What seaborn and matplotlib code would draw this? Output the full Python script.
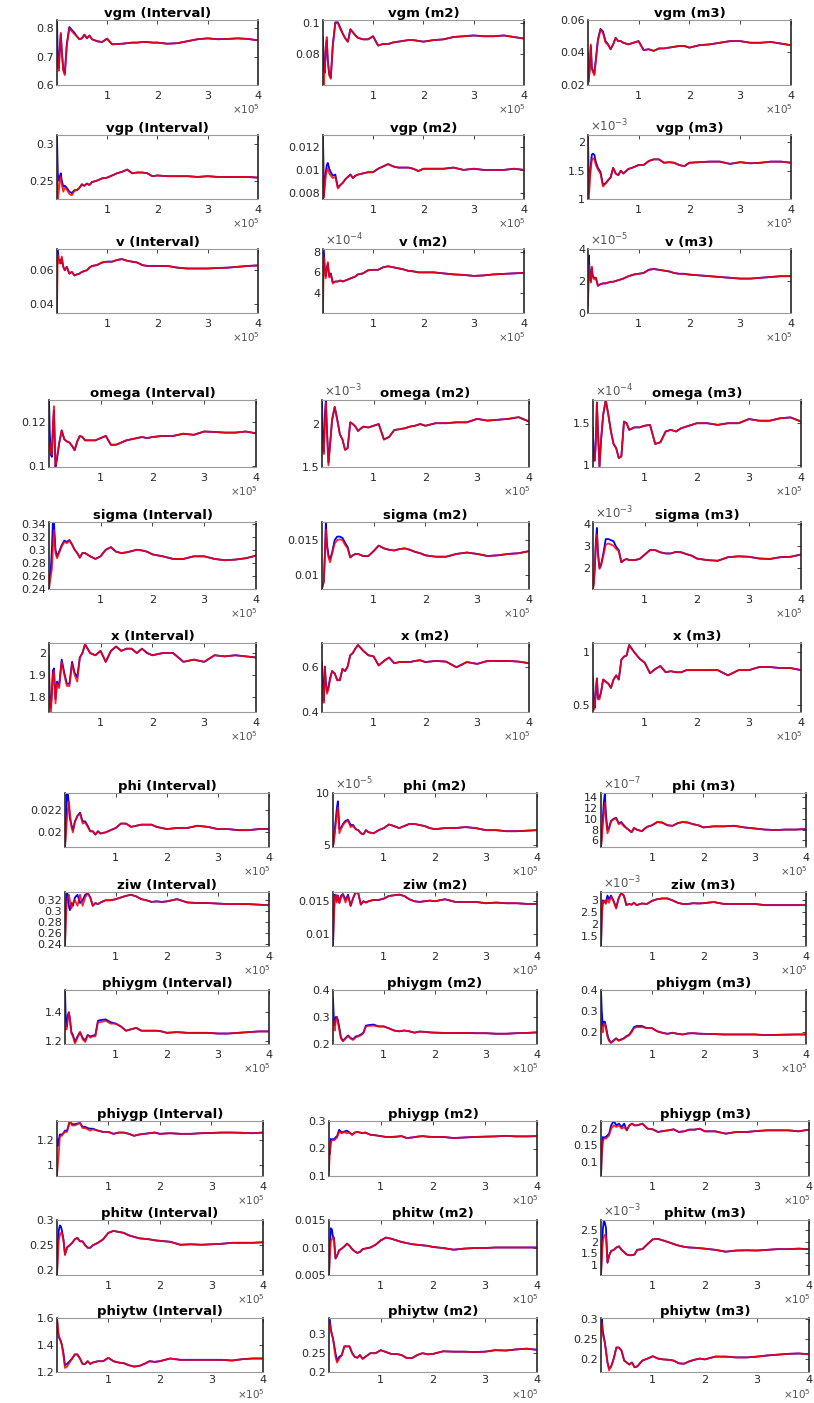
import matplotlib
matplotlib.use("Agg")
import matplotlib.pyplot as plt
import seaborn as sns
from matplotlib.ticker import FuncFormatter, FixedLocator

# ---------------------------------------------------------------------------
# Draw index (units of 1e5 draws)
# ---------------------------------------------------------------------------
draws = [0.005, 0.02, 0.04, 0.06, 0.08, 0.10, 0.13, 0.16, 0.20, 0.25, 0.30,
         0.35, 0.40, 0.45, 0.50, 0.55, 0.60, 0.65, 0.70, 0.80, 0.90,
         1.0, 1.1, 1.2, 1.3, 1.4, 1.5, 1.6, 1.7, 1.8, 1.9, 2.0,
         2.2, 2.4, 2.6, 2.8, 3.0, 3.2, 3.4, 3.6, 3.8, 4.0]
x_ticks = [1, 2, 3, 4]

# ---------------------------------------------------------------------------
# Convergence statistics: red = pooled chain, blue = within chains (early
# part listed separately, afterwards both coincide)
# ---------------------------------------------------------------------------
vgm_interval_red = [0.75, 0.68, 0.65, 0.72, 0.785, 0.72, 0.65, 0.635, 0.74, 0.80, 0.79, 0.78, 0.772, 0.762, 0.765, 0.778, 0.765, 0.775, 0.762, 0.755, 0.752,
                    0.764, 0.744, 0.745, 0.746, 0.748, 0.75, 0.75, 0.752, 0.752, 0.75, 0.75, 0.746, 0.748, 0.755, 0.762, 0.765, 0.762, 0.763, 0.765, 0.763, 0.758]
vgm_interval_blue = [0.83, 0.70, 0.66, 0.73, 0.78, 0.72, 0.655, 0.64, 0.745, 0.805, 0.795, 0.785]
vgm_m2_red = [0.065, 0.06, 0.07, 0.085, 0.091, 0.075, 0.066, 0.064, 0.085, 0.1, 0.1, 0.096, 0.093, 0.09, 0.088, 0.096, 0.094, 0.092, 0.0905, 0.0895, 0.0895,
              0.0915, 0.0855, 0.0865, 0.0865, 0.0875, 0.088, 0.0885, 0.089, 0.089, 0.0885, 0.088, 0.089, 0.0895, 0.091, 0.0915, 0.092, 0.0915, 0.0915, 0.092, 0.091, 0.090]
vgm_m2_blue = [0.091, 0.07, 0.068, 0.083, 0.089, 0.076, 0.067, 0.065, 0.086, 0.1005, 0.1005, 0.097]
vgm_m3_red = [0.038, 0.022, 0.03, 0.045, 0.03, 0.028, 0.026, 0.035, 0.047, 0.054, 0.052, 0.046, 0.045, 0.042, 0.045, 0.049, 0.047, 0.047, 0.046, 0.045, 0.046,
              0.047, 0.0415, 0.042, 0.041, 0.0425, 0.0425, 0.043, 0.0435, 0.044, 0.044, 0.043, 0.0445, 0.045, 0.046, 0.047, 0.047, 0.046, 0.046, 0.0465, 0.0455, 0.0445]
vgm_m3_blue = [0.04, 0.024, 0.031, 0.044, 0.031, 0.029, 0.027, 0.036, 0.048, 0.0545, 0.053, 0.047]

vgp_interval_red = [0.29, 0.225, 0.235, 0.25, 0.255, 0.245, 0.235, 0.24, 0.238, 0.232, 0.23, 0.236, 0.237, 0.24, 0.245, 0.243, 0.246, 0.244, 0.248, 0.25, 0.253,
                    0.254, 0.257, 0.26, 0.262, 0.265, 0.26, 0.261, 0.261, 0.26, 0.256, 0.257, 0.256, 0.256, 0.256, 0.255, 0.256, 0.255, 0.255, 0.255, 0.255, 0.254]
vgp_interval_blue = [0.312, 0.26, 0.25, 0.255, 0.26, 0.25, 0.242, 0.243, 0.24, 0.235, 0.233, 0.237]
vgp_m2_red = [0.0125, 0.0076, 0.0085, 0.0095, 0.0099, 0.0101, 0.0097, 0.0095, 0.0093, 0.0094, 0.0084, 0.0087, 0.0089, 0.0092, 0.0094, 0.0096, 0.0093, 0.0095, 0.0096, 0.0097, 0.0098,
              0.0098, 0.0101, 0.0103, 0.0105, 0.0103, 0.0102, 0.0102, 0.0102, 0.0101, 0.0099, 0.0101, 0.0101, 0.0101, 0.0102, 0.01, 0.0101, 0.01, 0.01, 0.01, 0.0101, 0.01]
vgp_m2_blue = [0.013, 0.0078, 0.009, 0.0098, 0.0104, 0.0106, 0.0101, 0.0098, 0.0095, 0.0096, 0.0085]
vgp_m3_red = [2.1, 1.0, 1.3, 1.55, 1.68, 1.72, 1.7, 1.6, 1.52, 1.45, 1.22, 1.27, 1.33, 1.38, 1.55, 1.45, 1.42, 1.5, 1.45, 1.53, 1.56,
              1.6, 1.6, 1.67, 1.7, 1.7, 1.64, 1.65, 1.64, 1.6, 1.58, 1.64, 1.65, 1.66, 1.66, 1.62, 1.65, 1.63, 1.64, 1.66, 1.66, 1.64]
vgp_m3_blue = [2.13, 1.1, 1.4, 1.6, 1.78, 1.8, 1.78, 1.65, 1.55, 1.48, 1.25, 1.28]

v_interval_red = [0.036, 0.069, 0.064, 0.066, 0.064, 0.068, 0.062, 0.06, 0.062, 0.058, 0.059, 0.057, 0.0575, 0.058, 0.059, 0.0595, 0.06, 0.0615, 0.0625, 0.063, 0.0645,
                  0.065, 0.065, 0.066, 0.0665, 0.0655, 0.065, 0.0645, 0.063, 0.0625, 0.0625, 0.0625, 0.0625, 0.0615, 0.061, 0.061, 0.061, 0.0613, 0.0615, 0.062, 0.0625, 0.0628]
v_interval_blue = [0.0724, 0.0724, 0.066, 0.066, 0.064, 0.067, 0.062]
v_m2_red = [2.1, 7.5, 6.2, 5.4, 6.3, 7.0, 5.5, 5.8, 4.9, 5.1, 5.1, 5.2, 5.1, 5.2, 5.3, 5.4, 5.5, 5.6, 5.8, 5.9, 6.2,
            6.25, 6.25, 6.5, 6.6, 6.5, 6.4, 6.3, 6.15, 6.1, 6.0, 6.0, 6.0, 5.9, 5.8, 5.75, 5.65, 5.7, 5.8, 5.85, 5.9, 5.95]
v_m2_blue = [8.3, 8.3, 6.4, 5.6, 6.4, 6.8, 5.6, 5.9, 5.0]
v_m3_red = [0.5, 3.0, 2.2, 1.9, 2.9, 2.2, 2.1, 2.2, 1.7, 1.8, 1.85, 1.85, 1.9, 1.95, 1.95, 2.0, 2.05, 2.1, 2.15, 2.3, 2.4,
            2.45, 2.5, 2.7, 2.75, 2.7, 2.65, 2.6, 2.5, 2.45, 2.45, 2.4, 2.35, 2.3, 2.25, 2.2, 2.15, 2.15, 2.2, 2.25, 2.3, 2.3]
v_m3_blue = [0.5, 3.6, 2.5, 2.0, 2.8, 2.3, 2.2]

omega_interval_red = [0.112, 0.11, 0.106, 0.105, 0.118, 0.127, 0.1, 0.104, 0.11, 0.116, 0.112, 0.111, 0.1105, 0.109, 0.107, 0.111, 0.1135, 0.113, 0.1115, 0.1115, 0.1115,
                      0.1125, 0.1135, 0.1095, 0.1095, 0.1105, 0.1115, 0.112, 0.1125, 0.113, 0.1125, 0.113, 0.1135, 0.1135, 0.1145, 0.114, 0.1155, 0.1153, 0.115, 0.115, 0.1155, 0.1147]
omega_interval_blue = [0.1298, 0.115, 0.105, 0.104, 0.116, 0.125, 0.0995, 0.103, 0.11, 0.116]
omega_m2_red = [1.8, 1.7, 1.65, 2.0, 2.25, 1.9, 1.52, 1.75, 2.05, 2.2, 2.05, 1.88, 1.82, 1.7, 1.72, 2.02, 2.0, 1.97, 1.92, 1.97, 1.96,
                1.98, 2.0, 1.82, 1.85, 1.93, 1.94, 1.95, 1.97, 1.98, 2.0, 1.98, 2.01, 2.01, 2.02, 2.02, 2.06, 2.04, 2.05, 2.06, 2.08, 2.03]
omega_m2_blue = [2.28, 1.75, 1.68, 2.1, 2.28, 1.95, 1.55, 1.76]
omega_m3_red = [1.05, 1.05, 1.05, 1.3, 1.75, 1.4, 0.97, 1.3, 1.6, 1.78, 1.6, 1.4, 1.25, 1.2, 1.08, 1.1, 1.52, 1.5, 1.42, 1.45, 1.45,
                1.47, 1.48, 1.25, 1.27, 1.4, 1.42, 1.4, 1.44, 1.46, 1.48, 1.5, 1.5, 1.48, 1.5, 1.5, 1.55, 1.53, 1.53, 1.56, 1.57, 1.52]
omega_m3_blue = [1.45, 1.05, 1.05, 1.3, 1.75, 1.4, 0.98, 1.3]

sigma_interval_red = [0.24, 0.25, 0.26, 0.27, 0.3, 0.33, 0.295, 0.287, 0.295, 0.305, 0.312, 0.31, 0.314, 0.308, 0.3, 0.295, 0.288, 0.295, 0.295, 0.29, 0.286,
                      0.29, 0.3, 0.304, 0.297, 0.295, 0.296, 0.298, 0.3, 0.299, 0.297, 0.293, 0.29, 0.286, 0.286, 0.29, 0.29, 0.286, 0.284, 0.285, 0.287, 0.291]
sigma_interval_blue = [0.24, 0.26, 0.27, 0.3, 0.3425, 0.3425, 0.3, 0.29, 0.297, 0.307, 0.314, 0.312, 0.315]
sigma_m2_red = [0.008, 0.0085, 0.009, 0.0125, 0.0165, 0.014, 0.0125, 0.0118, 0.013, 0.0145, 0.015, 0.0151, 0.015, 0.0143, 0.0138, 0.0125, 0.0128, 0.013, 0.013, 0.0127, 0.0127,
                0.0134, 0.0142, 0.0138, 0.0136, 0.0135, 0.0137, 0.0138, 0.0136, 0.0133, 0.0131, 0.0128, 0.0126, 0.0126, 0.013, 0.0132, 0.013, 0.0127, 0.0128, 0.013, 0.0131, 0.0134]
sigma_m2_blue = [0.008, 0.0085, 0.009, 0.013, 0.0176, 0.0145, 0.0128, 0.0122, 0.0132, 0.015, 0.0155, 0.0155, 0.0153, 0.0146, 0.014]
sigma_m3_red = [1.05, 1.2, 2.0, 3.0, 3.5, 2.6, 1.95, 2.1, 2.5, 3.05, 3.1, 3.05, 3.0, 2.85, 2.75, 2.25, 2.35, 2.4, 2.35, 2.35, 2.4,
                2.6, 2.8, 2.8, 2.7, 2.65, 2.65, 2.72, 2.7, 2.62, 2.55, 2.42, 2.35, 2.32, 2.48, 2.52, 2.5, 2.42, 2.4, 2.48, 2.5, 2.6]
sigma_m3_blue = [1.2, 1.3, 2.1, 3.2, 3.8, 2.7, 2.0, 2.15, 2.6, 3.3, 3.3, 3.25, 3.2, 2.95, 2.8]

x_interval_red = [1.99, 1.76, 1.73, 1.8, 1.9, 1.92, 1.77, 1.86, 1.84, 1.96, 1.9, 1.85, 1.85, 1.95, 1.9, 1.87, 1.98, 2.0, 2.04, 2.0, 1.99,
                  2.01, 1.96, 2.01, 2.03, 2.01, 2.02, 2.02, 2.0, 2.02, 2.0, 1.99, 2.0, 2.0, 1.96, 1.97, 1.96, 1.99, 1.985, 1.99, 1.985, 1.98]
x_interval_blue = [1.9, 1.8, 1.75, 1.82, 1.92, 1.93, 1.79, 1.87, 1.85, 1.97, 1.91, 1.86, 1.86, 1.96, 1.91, 1.89]
x_m2_red = [0.52, 0.46, 0.44, 0.6, 0.52, 0.48, 0.5, 0.54, 0.58, 0.57, 0.54, 0.54, 0.59, 0.58, 0.6, 0.65, 0.66, 0.68, 0.695, 0.67, 0.65,
            0.645, 0.605, 0.625, 0.64, 0.615, 0.62, 0.62, 0.62, 0.625, 0.628, 0.62, 0.625, 0.622, 0.597, 0.62, 0.612, 0.625, 0.625, 0.625, 0.622, 0.615]
x_m2_blue = [0.62, 0.52, 0.45, 0.6, 0.53, 0.49, 0.51, 0.55]
x_m3_red = [0.6, 0.45, 0.5, 0.65, 0.75, 0.55, 0.55, 0.62, 0.74, 0.72, 0.7, 0.66, 0.74, 0.78, 0.74, 0.93, 0.96, 0.97, 1.07, 1.0, 0.94,
            0.9, 0.8, 0.84, 0.87, 0.81, 0.82, 0.81, 0.81, 0.83, 0.83, 0.83, 0.83, 0.83, 0.78, 0.83, 0.83, 0.86, 0.86, 0.85, 0.85, 0.83]
x_m3_blue = [0.76, 0.5, 0.47, 0.63, 0.75, 0.56, 0.57]

phi_interval_red = [0.0187, 0.0195, 0.021, 0.022, 0.0228, 0.0218, 0.0205, 0.02, 0.021, 0.0215, 0.0217, 0.0208, 0.0209, 0.0205, 0.0201, 0.0201, 0.0198, 0.0201, 0.0199, 0.02, 0.0202,
                    0.0204, 0.0208, 0.0208, 0.0205, 0.0206, 0.0207, 0.0207, 0.0207, 0.0205, 0.0204, 0.0203, 0.0204, 0.0204, 0.0206, 0.0205, 0.0203, 0.0203, 0.0202, 0.0202, 0.0203, 0.0203]
phi_interval_blue = [0.0187, 0.0205, 0.0236, 0.0236, 0.0225, 0.0213, 0.0207, 0.0202, 0.021, 0.0215, 0.0218, 0.021, 0.021, 0.0206]
phi_m2_red = [4.8, 5.2, 6.0, 7.0, 8.0, 8.6, 6.1, 6.5, 6.9, 7.2, 7.3, 6.7, 6.8, 6.5, 6.4, 6.1, 6.0, 6.4, 6.2, 6.1, 6.4,
              6.6, 6.95, 6.8, 6.6, 6.8, 7.0, 7.0, 6.9, 6.8, 6.6, 6.5, 6.6, 6.6, 6.7, 6.6, 6.4, 6.4, 6.3, 6.3, 6.35, 6.4]
phi_m2_blue = [4.8, 5.5, 6.5, 7.5, 8.5, 9.2, 6.5, 6.6, 7.0, 7.3, 7.4, 6.9, 6.9]
phi_m3_red = [4.8, 6.0, 9.0, 11.0, 13.0, 10.0, 7.3, 8.0, 9.5, 9.9, 10.1, 9.0, 9.2, 8.6, 8.3, 7.9, 7.5, 8.3, 8.0, 7.7, 8.5,
              8.8, 9.4, 9.3, 8.8, 8.7, 9.2, 9.4, 9.3, 9.0, 8.8, 8.4, 8.6, 8.6, 8.7, 8.4, 8.2, 8.0, 7.9, 8.0, 8.0, 8.1]
phi_m3_blue = [4.8, 7.0, 10.0, 13.0, 14.8, 11.0, 8.0, 8.3, 9.6, 10.0, 10.2, 9.2, 9.4, 8.8]

ziw_interval_red = [0.238, 0.28, 0.315, 0.325, 0.33, 0.32, 0.305, 0.315, 0.32, 0.31, 0.33, 0.31, 0.325, 0.333, 0.325, 0.31, 0.315, 0.313, 0.316, 0.32, 0.32,
                    0.322, 0.325, 0.328, 0.33, 0.327, 0.322, 0.32, 0.317, 0.318, 0.317, 0.318, 0.322, 0.316, 0.315, 0.315, 0.314, 0.313, 0.313, 0.313, 0.312, 0.311]
ziw_interval_blue = [0.24, 0.3, 0.335, 0.33, 0.31, 0.302, 0.315, 0.31, 0.325, 0.33, 0.315, 0.32, 0.33]
ziw_m2_red = [0.0083, 0.012, 0.0155, 0.016, 0.0148, 0.0158, 0.0147, 0.0155, 0.016, 0.0148, 0.0158, 0.0143, 0.0155, 0.0164, 0.0162, 0.0145, 0.015, 0.0148, 0.015, 0.0152, 0.0152,
              0.0154, 0.0158, 0.0159, 0.016, 0.0158, 0.0153, 0.015, 0.0149, 0.015, 0.0151, 0.015, 0.0153, 0.0149, 0.0149, 0.0149, 0.0147, 0.0148, 0.0147, 0.0147, 0.0146, 0.0146]
ziw_m2_blue = [0.0083, 0.013, 0.016, 0.0158, 0.015, 0.0159, 0.0148, 0.0158, 0.0161, 0.0152, 0.016]
ziw_m3_red = [1.1, 2.2, 2.95, 2.9, 3.0, 2.85, 3.05, 2.9, 3.15, 2.95, 2.65, 3.1, 3.3, 3.2, 2.8, 2.85, 2.82, 2.9, 2.8, 2.87, 2.85,
              2.98, 3.05, 3.08, 3.08, 3.0, 2.9, 2.85, 2.85, 2.88, 2.87, 2.88, 2.93, 2.85, 2.85, 2.85, 2.85, 2.8, 2.8, 2.8, 2.8, 2.8]
ziw_m3_blue = [1.1, 2.4, 3.0, 2.95, 2.98, 2.9, 3.2, 3.05, 3.2, 2.98, 2.7, 3.1]

phiygm_interval_red = [1.3, 1.28, 1.28, 1.35, 1.4, 1.35, 1.25, 1.23, 1.18, 1.22, 1.26, 1.21, 1.19, 1.24, 1.22, 1.23, 1.23, 1.33, 1.33, 1.34, 1.32,
                       1.32, 1.3, 1.27, 1.28, 1.29, 1.27, 1.27, 1.27, 1.27, 1.265, 1.255, 1.26, 1.255, 1.255, 1.255, 1.25, 1.25, 1.255, 1.26, 1.265, 1.265]
phiygm_interval_blue = [1.558, 1.35, 1.3, 1.38, 1.4, 1.36, 1.26, 1.24, 1.19, 1.23, 1.26, 1.22, 1.2, 1.24, 1.23, 1.235, 1.24, 1.34, 1.345, 1.35, 1.33]
phiygm_m2_red = [0.3, 0.28, 0.25, 0.29, 0.3, 0.28, 0.25, 0.22, 0.21, 0.22, 0.23, 0.22, 0.215, 0.225, 0.228, 0.232, 0.24, 0.265, 0.267, 0.268, 0.265,
                 0.265, 0.258, 0.25, 0.247, 0.25, 0.247, 0.242, 0.246, 0.245, 0.243, 0.242, 0.241, 0.241, 0.241, 0.24, 0.24, 0.238, 0.238, 0.24, 0.241, 0.243]
phiygm_m2_blue = [0.37, 0.3, 0.27, 0.3, 0.3, 0.29, 0.26, 0.225, 0.212, 0.222, 0.232, 0.222, 0.218, 0.228, 0.23, 0.235, 0.242, 0.268, 0.27, 0.272]
phiygm_m3_red = [0.26, 0.22, 0.2, 0.24, 0.24, 0.22, 0.18, 0.16, 0.15, 0.16, 0.17, 0.16, 0.165, 0.17, 0.18, 0.185, 0.2, 0.22, 0.225, 0.225, 0.22,
                 0.22, 0.205, 0.198, 0.193, 0.198, 0.193, 0.19, 0.195, 0.196, 0.194, 0.193, 0.192, 0.19, 0.19, 0.19, 0.19, 0.187, 0.188, 0.189, 0.19, 0.19]
phiygm_m3_blue = [0.4, 0.3, 0.23, 0.25, 0.25, 0.23, 0.19, 0.165, 0.152, 0.162, 0.172, 0.162, 0.167, 0.172, 0.182, 0.188, 0.205, 0.225, 0.23, 0.23]

phiygp_interval_red = [0.92, 1.0, 1.1, 1.22, 1.23, 1.23, 1.25, 1.26, 1.26, 1.34, 1.31, 1.31, 1.32, 1.33, 1.29, 1.29, 1.28, 1.27, 1.28, 1.27, 1.26,
                       1.26, 1.245, 1.255, 1.255, 1.245, 1.23, 1.24, 1.245, 1.25, 1.255, 1.245, 1.25, 1.245, 1.245, 1.25, 1.252, 1.255, 1.255, 1.253, 1.25, 1.255]
phiygp_interval_blue = [1.2, 1.15, 1.2, 1.24, 1.24, 1.24, 1.25, 1.27, 1.27, 1.34, 1.32, 1.32, 1.325, 1.33, 1.3, 1.3, 1.29, 1.285, 1.285]
phiygp_m2_red = [0.12, 0.18, 0.22, 0.23, 0.232, 0.23, 0.235, 0.24, 0.26, 0.255, 0.26, 0.255, 0.258, 0.25, 0.258, 0.26, 0.258, 0.256, 0.258, 0.25, 0.248,
                 0.245, 0.242, 0.242, 0.243, 0.245, 0.238, 0.24, 0.243, 0.245, 0.243, 0.242, 0.242, 0.238, 0.24, 0.242, 0.243, 0.244, 0.246, 0.244, 0.244, 0.245]
phiygp_m2_blue = [0.19, 0.18, 0.235, 0.23, 0.235, 0.232, 0.24, 0.245, 0.268, 0.258, 0.262, 0.265]
phiygp_m3_red = [0.06, 0.12, 0.16, 0.17, 0.172, 0.17, 0.175, 0.18, 0.2, 0.21, 0.205, 0.21, 0.2, 0.205, 0.195, 0.21, 0.215, 0.21, 0.21, 0.215, 0.2,
                 0.198, 0.19, 0.193, 0.195, 0.198, 0.19, 0.192, 0.197, 0.197, 0.2, 0.192, 0.192, 0.185, 0.19, 0.19, 0.193, 0.195, 0.195, 0.195, 0.192, 0.197]
phiygp_m3_blue = [0.06, 0.13, 0.175, 0.17, 0.175, 0.175, 0.18, 0.185, 0.21, 0.223, 0.21, 0.215, 0.205, 0.215]

phitw_interval_red = [0.19, 0.22, 0.26, 0.27, 0.275, 0.275, 0.26, 0.23, 0.245, 0.25, 0.255, 0.262, 0.265, 0.258, 0.258, 0.25, 0.245, 0.245, 0.25, 0.255, 0.262,
                      0.275, 0.279, 0.277, 0.275, 0.27, 0.267, 0.264, 0.263, 0.262, 0.26, 0.259, 0.257, 0.251, 0.252, 0.251, 0.252, 0.253, 0.255, 0.255, 0.255, 0.256]
phitw_interval_blue = [0.19, 0.25, 0.28, 0.29, 0.288, 0.28, 0.262, 0.232, 0.246]
phitw_m2_red = [0.005, 0.008, 0.011, 0.0115, 0.0118, 0.0115, 0.008, 0.0085, 0.0095, 0.0098, 0.0102, 0.0107, 0.0103, 0.0097, 0.0093, 0.009, 0.0092, 0.0097, 0.0098, 0.01, 0.0105,
                0.0113, 0.0118, 0.0116, 0.0113, 0.011, 0.0108, 0.0106, 0.0105, 0.0104, 0.0103, 0.0101, 0.0099, 0.0096, 0.0098, 0.0099, 0.0099, 0.01, 0.01, 0.01, 0.01, 0.01]
phitw_m2_blue = [0.005, 0.01, 0.0135, 0.0133, 0.012, 0.0118, 0.008, 0.0085]
phitw_m3_red = [0.6, 1.2, 2.0, 2.2, 2.3, 2.2, 1.1, 1.4, 1.6, 1.65, 1.75, 1.8, 1.65, 1.55, 1.45, 1.42, 1.42, 1.45, 1.65, 1.68, 1.9,
                2.1, 2.12, 2.05, 1.98, 1.9, 1.83, 1.78, 1.75, 1.74, 1.72, 1.7, 1.65, 1.57, 1.62, 1.63, 1.62, 1.65, 1.68, 1.68, 1.7, 1.68]
phitw_m3_blue = [0.6, 1.5, 2.5, 2.93, 2.8, 2.6, 1.1, 1.4]

phiytw_interval_red = [1.6, 1.55, 1.47, 1.45, 1.42, 1.4, 1.32, 1.23, 1.24, 1.27, 1.3, 1.33, 1.33, 1.3, 1.26, 1.26, 1.28, 1.26, 1.27, 1.28, 1.28,
                       1.305, 1.28, 1.27, 1.265, 1.25, 1.24, 1.245, 1.26, 1.28, 1.275, 1.28, 1.3, 1.29, 1.29, 1.29, 1.29, 1.29, 1.285, 1.295, 1.3, 1.3]
phiytw_interval_blue = [1.6, 1.5, 1.46, 1.44, 1.43, 1.4, 1.34, 1.25, 1.26, 1.28]
phiytw_m2_red = [0.33, 0.33, 0.31, 0.3, 0.29, 0.27, 0.24, 0.225, 0.235, 0.245, 0.268, 0.268, 0.268, 0.25, 0.24, 0.238, 0.245, 0.235, 0.24, 0.25, 0.25,
                 0.258, 0.253, 0.248, 0.248, 0.245, 0.237, 0.237, 0.245, 0.25, 0.247, 0.248, 0.255, 0.254, 0.254, 0.253, 0.254, 0.258, 0.257, 0.26, 0.262, 0.259]
phiytw_m2_blue = [0.3435, 0.34, 0.315, 0.3, 0.29, 0.275, 0.25, 0.23, 0.24]
phiytw_m3_red = [0.27, 0.29, 0.26, 0.25, 0.24, 0.22, 0.19, 0.17, 0.18, 0.2, 0.228, 0.228, 0.22, 0.195, 0.19, 0.185, 0.19, 0.178, 0.18, 0.195, 0.2,
                 0.206, 0.2, 0.198, 0.197, 0.195, 0.188, 0.187, 0.193, 0.197, 0.2, 0.198, 0.205, 0.205, 0.203, 0.203, 0.205, 0.208, 0.21, 0.212, 0.213, 0.211]
phiytw_m3_blue = [0.28, 0.303, 0.27, 0.255, 0.24, 0.22, 0.19, 0.175]

# ---------------------------------------------------------------------------
# Panel definitions: title, red, blue (head), y-limits, y-ticks, power of ten
# ---------------------------------------------------------------------------
panels = [
    [("vgm (Interval)", vgm_interval_red, vgm_interval_blue, (0.6, 0.83), [0.6, 0.7, 0.8], 0),
     ("vgm (m2)", vgm_m2_red, vgm_m2_blue, (0.06, 0.102), [0.08, 0.1], 0),
     ("vgm (m3)", vgm_m3_red, vgm_m3_blue, (0.02, 0.06), [0.02, 0.04, 0.06], 0)],
    [("vgp (Interval)", vgp_interval_red, vgp_interval_blue, (0.225, 0.312), [0.25, 0.3], 0),
     ("vgp (m2)", vgp_m2_red, vgp_m2_blue, (0.0075, 0.013), [0.008, 0.01, 0.012], 0),
     ("vgp (m3)", vgp_m3_red, vgp_m3_blue, (1.0, 2.13), [1, 1.5, 2], -3)],
    [("v (Interval)", v_interval_red, v_interval_blue, (0.035, 0.0724), [0.04, 0.06], 0),
     ("v (m2)", v_m2_red, v_m2_blue, (2.0, 8.3), [4, 6, 8], -4),
     ("v (m3)", v_m3_red, v_m3_blue, (0.0, 4.0), [0, 2, 4], -5)],
    [("omega (Interval)", omega_interval_red, omega_interval_blue, (0.0994, 0.1298), [0.1, 0.12], 0),
     ("omega (m2)", omega_m2_red, omega_m2_blue, (1.5, 2.28), [1.5, 2], -3),
     ("omega (m3)", omega_m3_red, omega_m3_blue, (0.972, 1.78), [1, 1.5], -4)],
    [("sigma (Interval)", sigma_interval_red, sigma_interval_blue, (0.24, 0.3425), [0.24, 0.26, 0.28, 0.3, 0.32, 0.34], 0),
     ("sigma (m2)", sigma_m2_red, sigma_m2_blue, (0.00795, 0.0176), [0.01, 0.015], 0),
     ("sigma (m3)", sigma_m3_red, sigma_m3_blue, (1.045, 4.07), [2, 3, 4], -3)],
    [("x (Interval)", x_interval_red, x_interval_blue, (1.731, 2.046), [1.8, 1.9, 2], 0),
     ("x (m2)", x_m2_red, x_m2_blue, (0.4, 0.704), [0.4, 0.6], 0),
     ("x (m3)", x_m3_red, x_m3_blue, (0.429, 1.09), [0.5, 1], 0)],
    [("phi (Interval)", phi_interval_red, phi_interval_blue, (0.01867, 0.02358), [0.02, 0.022], 0),
     ("phi (m2)", phi_m2_red, phi_m2_blue, (4.77, 10.0), [5, 10], -5),
     ("phi (m3)", phi_m3_red, phi_m3_blue, (4.76, 14.8), [6, 8, 10, 12, 14], -7)],
    [("ziw (Interval)", ziw_interval_red, ziw_interval_blue, (0.237, 0.335), [0.24, 0.26, 0.28, 0.3, 0.32], 0),
     ("ziw (m2)", ziw_m2_red, ziw_m2_blue, (0.00823, 0.0164), [0.01, 0.015], 0),
     ("ziw (m3)", ziw_m3_red, ziw_m3_blue, (1.09, 3.35), [1.5, 2, 2.5, 3], -3)],
    [("phiygm (Interval)", phiygm_interval_red, phiygm_interval_blue, (1.176, 1.558), [1.2, 1.4], 0),
     ("phiygm (m2)", phiygm_m2_red, phiygm_m2_blue, (0.2, 0.4), [0.2, 0.3, 0.4], 0),
     ("phiygm (m3)", phiygm_m3_red, phiygm_m3_blue, (0.145, 0.4), [0.2, 0.3, 0.4], 0)],
    [("phiygp (Interval)", phiygp_interval_red, phiygp_interval_blue, (0.917, 1.345), [1, 1.2], 0),
     ("phiygp (m2)", phiygp_m2_red, phiygp_m2_blue, (0.1, 0.3), [0.1, 0.2, 0.3], 0),
     ("phiygp (m3)", phiygp_m3_red, phiygp_m3_blue, (0.058, 0.223), [0.1, 0.15, 0.2], 0)],
    [("phitw (Interval)", phitw_interval_red, phitw_interval_blue, (0.19, 0.301), [0.2, 0.25, 0.3], 0),
     ("phitw (m2)", phitw_m2_red, phitw_m2_blue, (0.005, 0.015), [0.005, 0.01, 0.015], 0),
     ("phitw (m3)", phitw_m3_red, phitw_m3_blue, (0.57, 2.93), [1, 1.5, 2, 2.5], -3)],
    [("phiytw (Interval)", phiytw_interval_red, phiytw_interval_blue, (1.2, 1.6), [1.2, 1.4, 1.6], 0),
     ("phiytw (m2)", phiytw_m2_red, phiytw_m2_blue, (0.2, 0.3435), [0.2, 0.25, 0.3], 0),
     ("phiytw (m3)", phiytw_m3_red, phiytw_m3_blue, (0.166, 0.303), [0.2, 0.25, 0.3], 0)],
]

# ---------------------------------------------------------------------------
# Layout (pixels): four stacked 3x3 blocks
# ---------------------------------------------------------------------------
W, H = 814, 1403
row_bounds = [(20, 85), (135, 199), (249, 313),
              (400, 467), (522, 589), (643, 712),
              (793, 847), (892, 946), (990, 1044),
              (1121, 1176), (1220, 1275), (1318, 1372)]
col_bounds = [[(57, 258), (323, 524), (588, 791)],
              [(49, 256), (322, 529), (593, 801)],
              [(65, 269), (333, 537), (601, 806)],
              [(57, 263), (329, 537), (601, 809)]]

sns.set_style("white")
plt.rcParams.update({
    "font.family": ["DejaVu Sans"],
    "mathtext.fontset": "dejavusans",
    "xtick.direction": "in",
    "ytick.direction": "in",
    "axes.linewidth": 0.8,
})

DARK = "#262626"
fmt = FuncFormatter(lambda v, pos: f"{v:g}")
xfmt = FuncFormatter(lambda v, pos: f"{v / 1e5:g}")
xs = [d * 1e5 for d in draws]

fig = plt.figure(figsize=(W / 100, H / 100), dpi=100)

for r, row in enumerate(panels):
    top, bottom = row_bounds[r]
    last_row = r == len(panels) - 1
    # the bottom row has less room below its axes
    x_pad = 2 if last_row else 4
    x_exp_offset = -15 if last_row else -17
    for c, (title, red, blue_head, ylim, yticks, expo) in enumerate(row):
        left, right = col_bounds[r // 3][c]
        ax = fig.add_axes([left / W, 1 - bottom / H, (right - left) / W, (bottom - top) / H])
        blue = list(blue_head) + list(red[len(blue_head):])
        sns.lineplot(x=xs, y=blue, ax=ax, color="#0000ff", linewidth=1.3,
                     estimator=None, sort=False, legend=False)
        sns.lineplot(x=xs, y=red, ax=ax, color="#ff0000", linewidth=1.3, alpha=0.85,
                     estimator=None, sort=False, legend=False)
        ax.set_xlim(xs[0], xs[-1])
        ax.set_ylim(*ylim)
        ax.xaxis.set_major_locator(FixedLocator([t * 1e5 for t in x_ticks]))
        ax.yaxis.set_major_locator(FixedLocator(yticks))
        ax.xaxis.set_major_formatter(xfmt)
        ax.yaxis.set_major_formatter(fmt)
        ax.set_xlabel("")
        ax.set_ylabel("")
        ax.tick_params(axis="both", which="major", direction="in", length=3, width=0.6,
                       top=True, right=True, labelsize=8, colors=DARK, pad=2)
        ax.tick_params(axis="x", pad=x_pad)
        for side in ("left", "right"):
            ax.spines[side].set_color(DARK)
            ax.spines[side].set_linewidth(1.2)
        for side in ("top", "bottom"):
            ax.spines[side].set_color("#9a9a9a")
            ax.spines[side].set_linewidth(0.8)
        ax.set_title(title, fontsize=9.5, fontweight="bold", color="black", pad=2.5)
        ax.annotate(r"$\times10^{5}$", xy=(1, 0), xycoords="axes fraction",
                    xytext=(2, x_exp_offset), textcoords="offset pixels",
                    ha="right", va="top", fontsize=7.5, color="#555555")
        if expo != 0:
            ax.annotate(r"$\times10^{%d}$" % expo, xy=(0, 1), xycoords="axes fraction",
                        xytext=(2, 1), textcoords="offset pixels",
                        ha="left", va="bottom", fontsize=8.5, color="#555555")

fig.savefig("out.png", dpi=100, facecolor="white")
